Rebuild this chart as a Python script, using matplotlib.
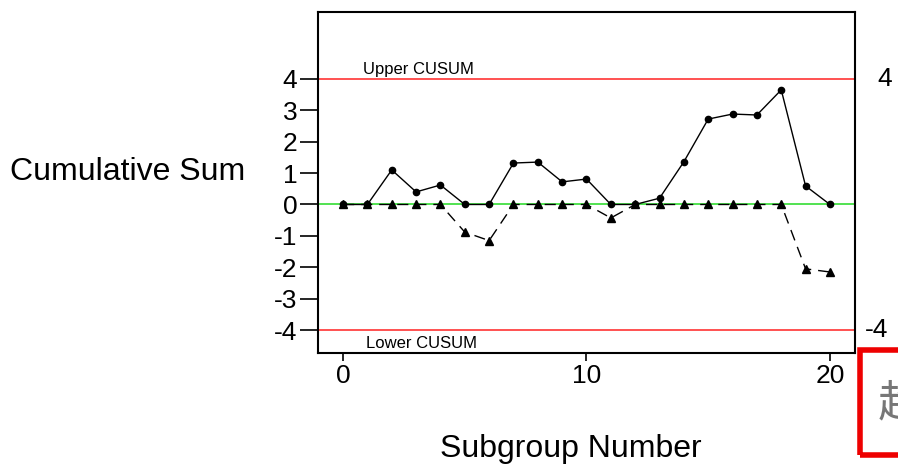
import numpy as np
import matplotlib.pyplot as plt
from matplotlib.patches import Rectangle

plt.rcParams["font.family"] = ["Liberation Sans", "DejaVu Sans"]
plt.rcParams["axes.unicode_minus"] = False

subgroup = np.arange(21)
upper_cusum = [0, 0, 1.1, 0.4, 0.62, 0, 0, 1.32, 1.35, 0.72, 0.81,
               0, 0, 0.2, 1.36, 2.72, 2.88, 2.85, 3.65, 0.59, 0]
lower_cusum = [0, 0, 0, 0, 0, -0.88, -1.15, 0, 0, 0, 0,
               -0.43, 0, 0, 0, 0, 0, 0, 0, -2.05, -2.15]
h = 4

fig = plt.figure(figsize=(8.98, 4.66), dpi=100)
ax = fig.add_axes([318 / 898, 1 - 353 / 466, (855 - 318) / 898, (353 - 12) / 466])

ax.axhline(h, color="#ff3333", lw=1.2, zorder=1)
ax.axhline(-h, color="#ff3333", lw=1.2, zorder=1)
ax.axhline(0, color="#33dd33", lw=1.2, zorder=1)

ax.plot(subgroup, upper_cusum, color="black", lw=1, marker="o", ms=4.5, zorder=3)
ax.plot(subgroup, lower_cusum, color="black", lw=1, ls=(0, (8, 5)), marker="^", ms=5.5, zorder=3)

ax.set_xlim(-1.03, 21.03)
ax.set_ylim(-4.73, 6.13)
ax.set_yticks(range(-4, 5))
ax.set_xticks([0, 10, 20])
ax.tick_params(labelsize=19, direction="out", width=1.2, colors="black", pad=2)
ax.tick_params(axis="y", length=13)
ax.tick_params(axis="x", length=6)
for s in ax.spines.values():
    s.set_linewidth(1.5)

ax.text(0.8, 4.05, "Upper CUSUM", fontsize=12, va="bottom")
ax.text(0.95, -4.2, "Lower CUSUM", fontsize=12, va="top")
ax.text(21.95, 4, "4", fontsize=19, va="center", ha="left", clip_on=False)
ax.text(21.45, -4, "-4", fontsize=19, va="center", ha="left", clip_on=False)

fig.text(10 / 898, 1 - 172 / 466, "Cumulative Sum", fontsize=23, va="center", ha="left")
fig.text(571 / 898, 1 - 449 / 466, "Subgroup Number", fontsize=23, va="center", ha="center")

# red framed overlay at the lower right corner
fig.patches.append(Rectangle((860 / 898, 1 - 455 / 466), 60 / 898, 105 / 466,
                             transform=fig.transFigure, fill=False,
                             edgecolor="#ee0000", lw=4))
fig.text(878 / 898, 1 - 403 / 466, "趋", fontsize=32, color="#777777",
         va="center", ha="left", family=["Noto Sans CJK SC", "DejaVu Sans"])

fig.savefig("out.png", dpi=100)
